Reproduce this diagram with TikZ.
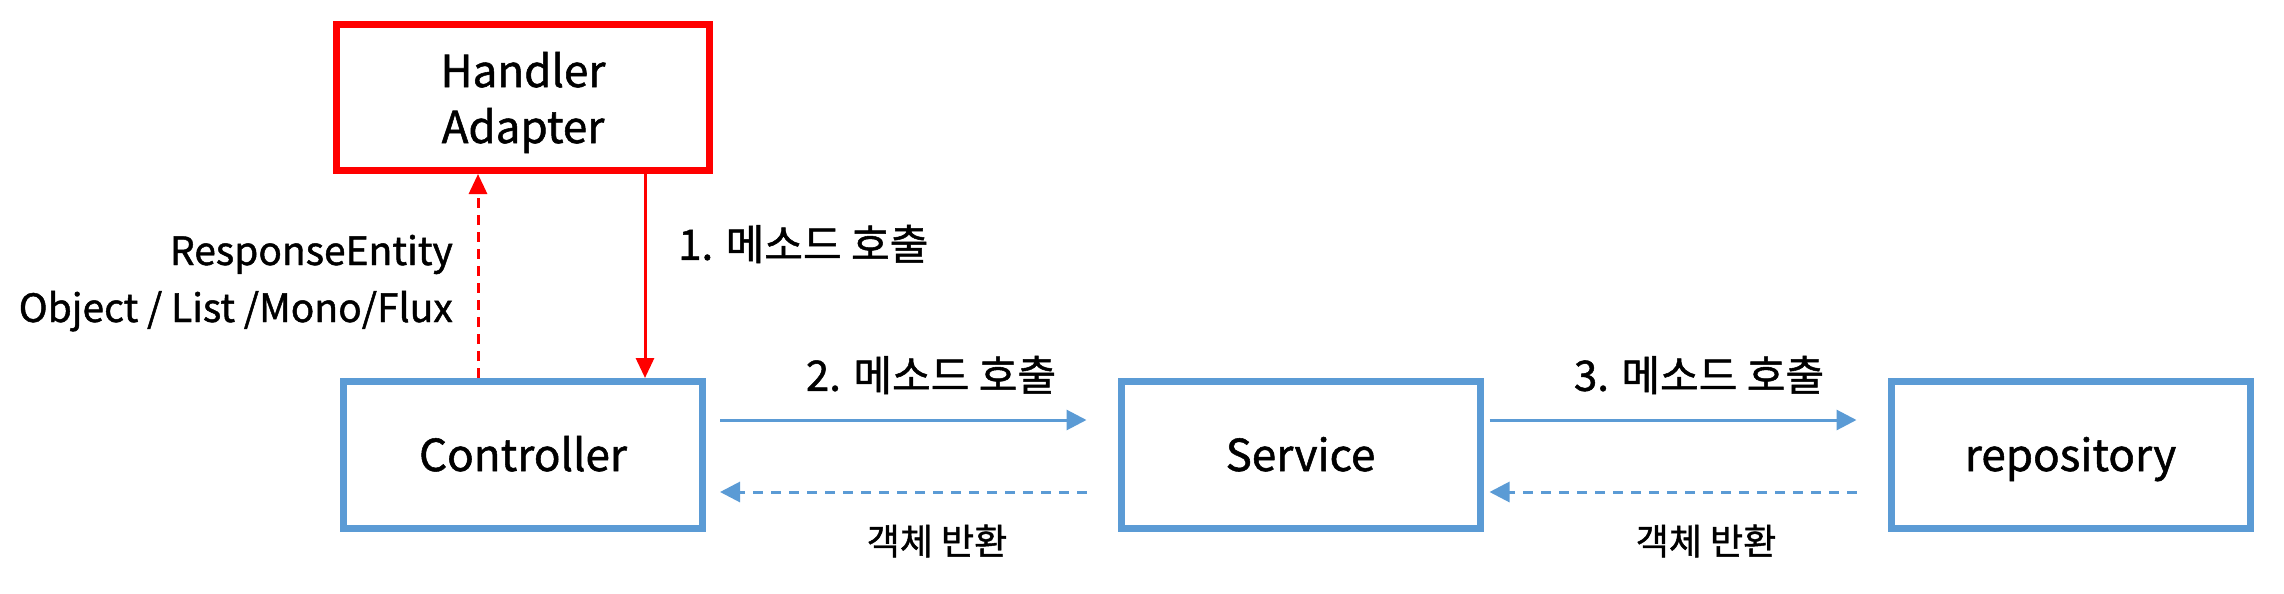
\documentclass[tikz,border=0pt]{standalone}
\usepackage{fontspec}
\setmainfont{Noto Sans CJK KR}[FakeBold=1.2]
\usetikzlibrary{arrows.meta}

\definecolor{callblue}{HTML}{5B9BD5}
\definecolor{adapterred}{HTML}{FF0000}

\tikzset{
  box/.style={draw=callblue, line width=7bp, minimum width=359bp, minimum height=147bp,
    inner sep=0pt, align=center, font=\fontsize{44bp}{56bp}\selectfont},
  onebox/.style={box, text height=32bp, text depth=0pt},
  call/.style={callblue, line width=3bp, -{Triangle[length=20bp,width=20bp]}},
  back/.style={call, dash pattern=on 10bp off 8bp},
  redcall/.style={adapterred, line width=3bp, -{Triangle[length=20bp,width=18bp]}},
  redback/.style={redcall, dash pattern=on 10bp off 7bp},
  lbl/.style={inner sep=0pt, font=\fontsize{42bp}{50bp}\selectfont},
  smalllbl/.style={inner sep=0pt, font=\fontsize{36bp}{44bp}\selectfont},
  sidelbl/.style={inner sep=0pt, font=\fontsize{39bp}{48bp}\selectfont}
}

\begin{document}
\begin{tikzpicture}[x=1bp,y=-1bp]
  \useasboundingbox (0,0) rectangle (2284,594);

  \coordinate (up) at (478,0);
  \coordinate (down) at (645,0);

  \node[box, draw=adapterred, minimum width=373bp, minimum height=146bp, text depth=0pt] (h) at (523,97.5) {Handler\\Adapter};
  \node[onebox] (c) at (523,455) {Controller};
  \node[onebox] (s) at (1300.5,455) {Service};
  \node[onebox] (r) at (2070.5,455) {repository};

  \draw[redback] (c.north -| up) -- (h.south -| up);
  \draw[redcall] (h.south -| down) -- (c.north -| down);

  \draw[call] ([xshift=14bp,yshift=35bp]c.east) -- ([xshift=-31bp,yshift=35bp]s.west);
  \draw[back] ([xshift=-31bp,yshift=-37bp]s.west) -- ([xshift=14bp,yshift=-37bp]c.east);
  \draw[call] ([xshift=6bp,yshift=35bp]s.east) -- ([xshift=-31bp,yshift=35bp]r.west);
  \draw[back] ([xshift=-31bp,yshift=-37bp]r.west) -- ([xshift=6bp,yshift=-37bp]s.east);

  \node[sidelbl, anchor=base east] (re) at (453,265) {ResponseEntity};
  \node[sidelbl, anchor=base east] (ol) at (453,322) {Object / List /Mono/Flux};

  \node[lbl, anchor=west] (m1) at (678,244) {1. 메소드 호출};
  \node[lbl] (m2) at (931,375) {2. 메소드 호출};
  \node[lbl] (m3) at (1699,375) {3. 메소드 호출};
  \node[smalllbl] (r1) at (937,541) {객체 반환};
  \node[smalllbl] (r2) at (1706,541) {객체 반환};

\end{tikzpicture}
\end{document}
